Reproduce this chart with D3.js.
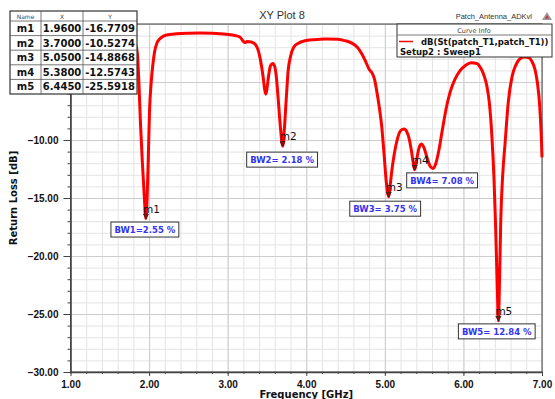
<!DOCTYPE html>
<html>
<head>
<meta charset="utf-8">
<script src="https://cdn.jsdelivr.net/npm/d3@7"></script>
<style>
  body { margin: 0; background: #fff; }
  svg { display: block; font-family: 'DejaVu Sans', sans-serif; }
  .grid line { stroke: #e4e4e4; }
  .gridMajor line { stroke: #cdcdcd; }
  .grid .domain, .gridMajor .domain, .minor .domain { display: none; }
  .axis line, .minor line { stroke: #444; }
  .axis .domain { stroke: #444; stroke-width: 1.5; }
  .axisNum { font-size: 10px; font-weight: bold; fill: #111; }
  .label { font-size: 10px; font-weight: bold; fill: #111; }
  .title { font-family: 'Liberation Sans', Arial, sans-serif; font-size: 11px; fill: #333; }
  .project { font-family: 'Liberation Sans', Arial, sans-serif; font-size: 7.5px; fill: #333; }
  .mname { font-size: 10.5px; fill: #111; }
  .bw { font-size: 8.5px; font-weight: bold; fill: #3434f2; }
  .tblHead { font-size: 6px; fill: #444; }
  .tblCell { font-size: 10px; font-weight: bold; fill: #111; }
  .legendText { font-size: 8.5px; font-weight: bold; fill: #111; }
  .legendHead { font-size: 6.5px; fill: #444; }
</style>
</head>
<body>
<svg width="555" height="399"></svg>
<script>
// sweep values
const freqGHz = [1.00, 1.20, 1.40, 1.60, 1.75, 1.82, 1.85, 1.87, 1.89, 1.915, 1.94, 1.96, 1.975, 1.99, 2.006, 2.025, 2.045, 2.07, 2.10, 2.15, 2.22, 2.35,
  2.50, 2.65, 2.80, 2.98, 3.10, 3.16, 3.20, 3.22, 3.25, 3.30, 3.35, 3.39, 3.42, 3.45, 3.47, 3.485, 3.50, 3.52, 3.545, 3.575,
  3.60, 3.62, 3.64, 3.67, 3.70, 3.72, 3.745, 3.77, 3.80, 3.84, 3.90, 3.98, 4.10, 4.25, 4.40, 4.50, 4.58, 4.65, 4.71, 4.76,
  4.80, 4.84, 4.87, 4.90, 4.93, 4.96, 4.99, 5.02, 5.05, 5.07, 5.09, 5.12, 5.16, 5.20, 5.245, 5.28, 5.31, 5.34, 5.36, 5.38,
  5.40, 5.43, 5.465, 5.50, 5.54, 5.58, 5.615, 5.65, 5.69, 5.73, 5.78, 5.83, 5.89, 5.96, 6.03, 6.10, 6.17, 6.22, 6.26, 6.30,
  6.33, 6.36, 6.39, 6.41, 6.43, 6.445, 6.46, 6.475, 6.50, 6.53, 6.57, 6.62, 6.67, 6.72, 6.78, 6.83, 6.87, 6.91, 6.94, 6.97,
  6.99, 7.00]
const returnLossDb = [-1.2, -1.0, -0.9, -1.0, -1.2, -1.6, -2.5, -5.0, -8.5, -12.0, -15.0, -16.7709, -15.0, -11.5, -7.4, -5.2, -3.7, -2.4, -1.64, -1.2, -0.95, -0.85,
  -0.8, -0.78, -0.8, -0.88, -1.0, -1.15, -1.5, -1.6, -1.5, -1.55, -1.75, -2.3, -3.2, -4.5, -5.6, -6.05, -5.6, -4.5, -3.6, -3.4,
  -3.7, -4.6, -6.2, -8.8, -10.5274, -9.2, -6.5, -4.0, -2.8, -2.0, -1.65, -1.45, -1.35, -1.3, -1.32, -1.45, -1.65, -2.0, -2.6, -3.3,
  -3.9, -4.25, -4.8, -5.9, -7.2, -8.8, -11.2, -13.7, -14.8868, -13.8, -12.6, -11.2, -9.9, -9.2, -9.05, -9.3, -9.9, -11.0, -11.9, -12.5743,
  -11.9, -10.8, -10.35, -10.7, -11.6, -12.3, -12.45, -12.0, -10.8, -9.2, -7.3, -5.9, -4.8, -4.0, -3.55, -3.35, -3.4, -3.8, -4.4, -5.4,
  -6.8, -9.4, -13.5, -17.5, -22.5, -25.5918, -22.0, -17.0, -13.0, -10.3, -6.8, -4.5, -3.5, -3.0, -2.85, -2.9, -3.2, -3.9, -5.0, -7.0,
  -9.5, -11.5]

const markerNames = ['m1', 'm2', 'm3', 'm4', 'm5']
const markerFreq = [1.96, 3.70, 5.05, 5.38, 6.445]
const markerDb = [-16.7709, -10.5274, -14.8868, -12.5743, -25.5918]
const bandwidthLabels = ['BW1=2.55 %', 'BW2= 2.18 %', 'BW3= 3.75 %', 'BW4= 7.08 %', 'BW5= 12.84 %']

const xTicks = [1, 2, 3, 4, 5, 6, 7]
const yTicks = [-30, -25, -20, -15, -10, -5, 0]

// where each BW box sits relative to its marker (layout only)
const bwOffsets = [[-35, 3.5], [-36, 6], [-39, 4.5], [-8, 3], [-40, 3]]

const svg = d3.select('svg')
const plotLeft = 70.5, plotRight = 542, plotTop = 24, plotBottom = 372
const width = plotRight - plotLeft
const height = plotBottom - plotTop

const x = d3.scaleLinear().domain([1, 7]).range([plotLeft, plotRight])
const y = d3.scaleLinear().domain([-30, 0]).range([plotBottom, plotTop])

const minorX = d3.range(1, 7.0001, 0.2)
const minorY = d3.range(-30, 0.0001, 1)

// grid
svg.append('g')
  .attr('class', 'grid')
  .attr('transform', `translate(0, ${plotBottom})`)
  .call(d3.axisBottom(x).tickValues(minorX).tickSize(-height).tickFormat(''))
svg.append('g')
  .attr('class', 'grid')
  .attr('transform', `translate(${plotLeft}, 0)`)
  .call(d3.axisLeft(y).tickValues(minorY).tickSize(-width).tickFormat(''))
svg.append('g')
  .attr('class', 'gridMajor')
  .attr('transform', `translate(0, ${plotBottom})`)
  .call(d3.axisBottom(x).tickValues(xTicks).tickSize(-height).tickFormat(''))
svg.append('g')
  .attr('class', 'gridMajor')
  .attr('transform', `translate(${plotLeft}, 0)`)
  .call(d3.axisLeft(y).tickValues(yTicks).tickSize(-width).tickFormat(''))

// frame
svg.append('rect')
  .attr('x', plotLeft).attr('y', plotTop)
  .attr('width', width).attr('height', height)
  .attr('fill', 'none').attr('stroke', '#444').attr('stroke-width', 1)

// minor ticks
svg.append('g')
  .attr('class', 'minor')
  .attr('transform', `translate(0, ${plotBottom})`)
  .call(d3.axisBottom(x).tickValues(minorX).tickSize(2).tickFormat(''))
svg.append('g')
  .attr('class', 'minor')
  .attr('transform', `translate(${plotLeft}, 0)`)
  .call(d3.axisLeft(y).tickValues(minorY).tickSize(3).tickFormat(''))

// axes (the -5 and 0 labels sit under the marker table, so leave them out)
const fmt = d3.format('.2f')
svg.append('g')
  .attr('class', 'axis')
  .attr('transform', `translate(0, ${plotBottom})`)
  .call(d3.axisBottom(x).tickValues(xTicks).tickSize(4).tickSizeOuter(0).tickPadding(5).tickFormat(fmt))
  .selectAll('text')
  .attr('class', 'axisNum')
svg.append('g')
  .attr('class', 'axis')
  .attr('transform', `translate(${plotLeft}, 0)`)
  .call(d3.axisLeft(y).tickValues(yTicks).tickSize(7).tickSizeOuter(0).tickPadding(5)
    .tickFormat((d) => (d <= -10 ? fmt(d) : '')))
  .selectAll('text')
  .attr('class', 'axisNum')
svg.selectAll('.axis text').attr('fill', null)

// curve
const line = d3.line()
  .x((d, i) => x(freqGHz[i]))
  .y((d) => y(d))
  .curve(d3.curveMonotoneX)

svg.append('path')
  .datum(returnLossDb)
  .attr('fill', 'none')
  .attr('stroke', '#ff0000')
  .attr('stroke-width', 3)
  .attr('stroke-linejoin', 'round')
  .attr('d', line)

// markers
const markers = svg.selectAll('.marker')
  .data(markerNames)
  .enter()
  .append('g')
  .attr('class', 'marker')
  .attr('transform', (d, i) => `translate(${x(markerFreq[i])}, ${y(markerDb[i])})`)

markers.append('path')
  .attr('d', 'M0,0 L-2.5,-4.5 L2.5,-4.5 Z')
  .attr('fill', '#b00000')
  .attr('stroke', '#222')
  .attr('stroke-width', 0.8)

markers.append('text')
  .attr('class', 'mname')
  .attr('x', -3)
  .attr('y', -6)
  .text((d) => d)

// BW boxes
const bw = svg.selectAll('.bwBox')
  .data(bandwidthLabels)
  .enter()
  .append('g')
  .attr('class', 'bwBox')
  .attr('transform', (d, i) => `translate(${x(markerFreq[i]) + bwOffsets[i][0]}, ${y(markerDb[i]) + bwOffsets[i][1]})`)

bw.append('rect')
  .attr('height', 15)
  .attr('fill', '#fff')
  .attr('stroke', '#333')
  .attr('stroke-width', 1)

const bwText = bw.append('text')
  .attr('class', 'bw')
  .attr('x', 3.5)
  .attr('y', 10.8)
  .text((d) => d)

bwText.each(function () {
  const w = this.getComputedTextLength()
  d3.select(this.parentNode).select('rect').attr('width', w + 7)
})

// labels
svg.append('text')
  .attr('class', 'label')
  .attr('x', -(plotTop + plotBottom) / 2)
  .attr('y', 17)
  .attr('transform', 'rotate(-90)')
  .attr('text-anchor', 'middle')
  .text('Return Loss [dB]')

svg.append('text')
  .attr('class', 'label')
  .attr('x', (plotLeft + plotRight) / 2)
  .attr('y', 398)
  .attr('text-anchor', 'middle')
  .text('Frequency [GHz]')

svg.append('text')
  .attr('class', 'title')
  .attr('x', 282)
  .attr('y', 19)
  .attr('text-anchor', 'middle')
  .text('XY Plot 8')

svg.append('text')
  .attr('class', 'project')
  .attr('x', 532)
  .attr('y', 19)
  .attr('text-anchor', 'end')
  .text('Patch_Antenna_ADKvl')

// little logo
const logo = svg.append('g').attr('transform', 'translate(547, 12)')
logo.append('path').attr('d', 'M0,0 L-5,8 L5,8 Z').attr('fill', '#9a9a9a')
logo.append('path').attr('d', 'M0,3 L-2,6.5 L2,6.5 Z').attr('fill', '#d23030')

// legend
const legend = svg.append('g').attr('transform', 'translate(397, 24)')
legend.append('rect')
  .attr('width', 155).attr('height', 33)
  .attr('fill', '#fff').attr('stroke', '#333').attr('stroke-width', 1)
legend.append('line')
  .attr('x1', 0).attr('x2', 155).attr('y1', 11).attr('y2', 11)
  .attr('stroke', '#555').attr('stroke-width', 0.8)
legend.append('text')
  .attr('class', 'legendHead')
  .attr('x', 77).attr('y', 8.5)
  .attr('text-anchor', 'middle')
  .text('Curve Info')
legend.append('line')
  .attr('x1', 2).attr('x2', 16).attr('y1', 17.5).attr('y2', 17.5)
  .attr('stroke', '#ff0000').attr('stroke-width', 1.5)
legend.append('text')
  .attr('class', 'legendText')
  .attr('x', 24).attr('y', 21)
  .text('dB(St(patch_T1,patch_T1))')
legend.append('text')
  .attr('class', 'legendText')
  .attr('x', 3).attr('y', 30.5)
  .text('Setup2 : Sweep1')

// marker table
const colW = [31, 42, 54]
const colX = [0, 31, 73]
const headH = 10, rowH = 14.6
const table = svg.append('g').attr('transform', 'translate(10, 11)')
const tableW = d3.sum(colW)
const tableH = headH + rowH * markerNames.length

table.append('rect')
  .attr('width', tableW).attr('height', tableH)
  .attr('fill', '#fff').attr('stroke', '#333').attr('stroke-width', 1.2)

colX.slice(1).forEach((cx) => {
  table.append('line')
    .attr('x1', cx).attr('x2', cx).attr('y1', 0).attr('y2', tableH)
    .attr('stroke', '#555').attr('stroke-width', 0.8)
})
d3.range(markerNames.length).forEach((r) => {
  table.append('line')
    .attr('x1', 0).attr('x2', tableW)
    .attr('y1', headH + r * rowH).attr('y2', headH + r * rowH)
    .attr('stroke', '#555').attr('stroke-width', 0.8)
})

const heads = ['Name', 'X', 'Y']
heads.forEach((h, c) => {
  table.append('text')
    .attr('class', 'tblHead')
    .attr('x', colX[c] + colW[c] / 2).attr('y', 7.5)
    .attr('text-anchor', 'middle')
    .text(h)
})

const rows = table.selectAll('.tblRow')
  .data(markerNames)
  .enter()
  .append('g')
  .attr('class', 'tblRow')
  .attr('transform', (d, i) => `translate(0, ${headH + i * rowH})`)

rows.each(function (d, i) {
  const cells = [d, markerFreq[i].toFixed(4), markerDb[i].toFixed(4)]
  cells.forEach((txt, c) => {
    d3.select(this).append('text')
      .attr('class', 'tblCell')
      .attr('x', colX[c] + colW[c] / 2)
      .attr('y', 11)
      .attr('text-anchor', 'middle')
      .text(txt)
  })
})
</script>
</body>
</html>
